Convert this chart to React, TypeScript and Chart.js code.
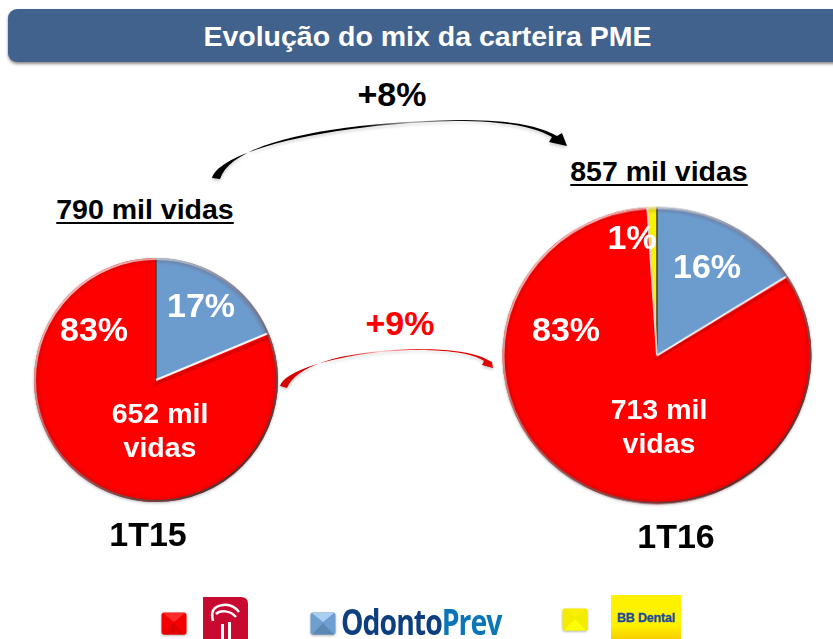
import React, { useEffect, useRef } from "react";
import { Chart, registerables } from "chart.js";

Chart.register(...registerables);

const categories = ["OdontoPrev", "Bradesco", "BB Dental"];
const slices1T15 = [18.7, 81.3, 0];
const slices1T16 = [16, 83, 1];
const sliceColors = ["#6c9ccd", "#ff0000", "#f6f200"];
const titleText = "Evolução do mix da carteira PME";
const growthTotal = "+8%";
const growthBradesco = "+9%";
const total1T15 = "790 mil vidas";
const total1T16 = "857 mil vidas";
const labels1T15 = ["17%", "83%"];
const labels1T16 = ["16%", "1%", "83%"];
const bradesco1T15 = ["652 mil", "vidas"];
const bradesco1T16 = ["713 mil", "vidas"];
const periods = ["1T15", "1T16"];

const shade = {
  id: "shade",
  beforeDatasetsDraw(chart: any) {
    const arc = chart.getDatasetMeta(0).data[0];
    const { x, y, outerRadius: r } = arc;
    const c = chart.ctx;
    c.save();
    c.shadowColor = "rgba(0,0,0,0.3)";
    c.shadowBlur = 3;
    c.shadowOffsetX = 0;
    c.shadowOffsetY = 1;
    c.fillStyle = "#fff";
    c.beginPath();
    c.arc(x, y, r, 0, Math.PI * 2);
    c.fill();
    c.restore();
  },
  afterDatasetsDraw(chart: any) {
    const arcs = chart.getDatasetMeta(0).data;
    const { x, y, outerRadius: r } = arcs[0];
    const c = chart.ctx;
    c.save();
    c.beginPath();
    c.arc(x, y, r, 0, Math.PI * 2);
    c.clip();
    const g = c.createRadialGradient(x, y, r - 7, x, y, r);
    g.addColorStop(0, "rgba(120,0,0,0)");
    g.addColorStop(1, "rgba(70,10,10,0.22)");
    c.fillStyle = g;
    c.fillRect(x - r, y - r, 2 * r, 2 * r);
    const a = arcs[0].startAngle;
    c.strokeStyle = "rgba(70,60,60,0.75)";
    c.lineWidth = 2;
    c.beginPath();
    c.moveTo(x, y);
    c.lineTo(x + Math.cos(a) * r, y + Math.sin(a) * r);
    c.stroke();
    const e = arcs[0].endAngle;
    c.strokeStyle = "rgba(190,0,0,0.6)";
    c.lineWidth = 3;
    c.beginPath();
    c.moveTo(x - 3, y + 5);
    c.lineTo(x + Math.cos(e) * r - 1, y + Math.sin(e) * r + 5);
    c.stroke();
    c.strokeStyle = "#f4f2f2";
    c.lineWidth = 2;
    c.beginPath();
    c.moveTo(x, y);
    c.lineTo(x + Math.cos(e) * r, y + Math.sin(e) * r);
    c.stroke();
    if (arcs[2].circumference > 0.001) {
      const b = arcs[2].startAngle;
      c.strokeStyle = "rgba(215,215,205,0.95)";
      c.lineWidth = 2;
      c.beginPath();
      c.moveTo(x, y);
      c.lineTo(x + Math.cos(b) * r, y + Math.sin(b) * r);
      c.stroke();
    }
    const rim = c.createLinearGradient(x - r * 0.6, y - r * 0.8, x + r * 0.7, y + r * 0.7);
    rim.addColorStop(0, "rgba(255,255,255,0.7)");
    rim.addColorStop(0.45, "rgba(150,130,130,0.65)");
    rim.addColorStop(1, "rgba(60,60,60,0.9)");
    c.strokeStyle = rim;
    c.lineWidth = 3;
    c.beginPath();
    c.arc(x, y, r - 0.5, 0, Math.PI * 2);
    c.stroke();
    c.restore();
  },
};

function Pie({ values, left, top, size, radius, cssHeight }: any) {
  const ref = useRef<HTMLCanvasElement>(null);
  useEffect(() => {
    const chart = new Chart(ref.current!, {
      type: "pie",
      data: {
        labels: categories,
        datasets: [{ data: values, backgroundColor: sliceColors, borderWidth: 0 }],
      },
      options: {
        responsive: false,
        animation: false,
        radius,
        layout: { padding: 0 },
        plugins: { legend: { display: false }, tooltip: { enabled: false } },
      },
      plugins: [shade],
    });
    return () => chart.destroy();
  }, []);
  return <canvas ref={ref} width={size} height={size} style={{ position: "absolute", left, top, width: size, height: cssHeight ?? size }} />;
}

function Label({ x, y, size, color = "#000", children, underline }: any) {
  return (
    <div
      style={{
        position: "absolute",
        left: x - 300,
        width: 600,
        top: y - size,
        height: size * 2,
        lineHeight: `${size * 2}px`,
        textAlign: "center",
        fontFamily: "'Liberation Sans', Arial, sans-serif",
        fontWeight: 700,
        fontSize: size,
        color,
        textDecoration: underline ? "underline" : "none",
        textDecorationThickness: underline ? 2 : undefined,
        textUnderlineOffset: underline ? 3 : undefined,
        whiteSpace: "nowrap",
      }}
    >
      {children}
    </div>
  );
}

function Chip({ x, y, light, mid, dark }: any) {
  return (
    <svg width={27} height={26} style={{ position: "absolute", left: x, top: y, filter: "drop-shadow(0 1px 1px rgba(0,0,0,.3))" }}>
      <rect x={0.5} y={0.5} width={25} height={22} rx={2.5} fill={mid} />
      <polygon points="2,1 24,1 13,10" fill={light} />
      <polygon points="2,22.5 24,22.5 13,11" fill={dark} />
    </svg>
  );
}

export default function App() {
  return (
    <div style={{ position: "fixed", left: 0, top: 0, width: 833, height: 639, background: "#fff", overflow: "hidden" }}>
      <div
        style={{
          position: "absolute",
          left: 8,
          top: 9,
          width: 840,
          height: 53,
          borderRadius: 9,
          background: "#41628c",
          boxShadow: "0 2px 3px rgba(0,0,0,.45)",
        }}
      />
      <Label x={427.5} y={36} size={28.5} color="#fff">{titleText}</Label>
      <Label x={392} y={94} size={34}>{growthTotal}</Label>
      <Label x={145} y={209} size={28.5} underline>{total1T15}</Label>
      <Label x={659} y={171} size={28.5} underline>{total1T16}</Label>
      <Label x={400} y={323} size={34} color="#ff0000">{growthBradesco}</Label>

      <Pie values={slices1T15} left={6} top={230} size={300} radius={122} />
      <Pie values={slices1T16} left={467} top={173} size={380} radius={154.5} cssHeight={365} />

      <svg width={833} height={639} style={{ position: "absolute", left: 0, top: 0 }}>
        <defs>
          <linearGradient id="blk" x1="215" x2="566" y1="0" y2="0" gradientUnits="userSpaceOnUse">
            <stop offset="0" stopColor="#000" />
            <stop offset="0.42" stopColor="#000" />
            <stop offset="0.56" stopColor="#aaa" />
            <stop offset="0.72" stopColor="#000" />
          </linearGradient>
          <linearGradient id="red" x1="280" x2="493" y1="0" y2="0" gradientUnits="userSpaceOnUse">
            <stop offset="0" stopColor="#d40000" />
            <stop offset="0.3" stopColor="#d40000" />
            <stop offset="0.48" stopColor="#ffc8c8" />
            <stop offset="0.7" stopColor="#e00000" />
          </linearGradient>
          <filter id="sh" x="-10%" y="-30%" width="120%" height="170%">
            <feDropShadow dx="0" dy="2" stdDeviation="1.5" floodColor="#000" floodOpacity="0.2" />
          </filter>
        </defs>
        <path
          d="M212 178 C220 150 330 124 455 121 C505 121 535 127 552 137 L549 142 L567 146 L562 133 L557 136 C535 124 505 120 455 120 C330 123 232 142 220 179 Z"
          fill="url(#blk)"
          filter="url(#sh)"
        />
        <path
          d="M280 386 C284 372 330 354 410 350 C450 350 472 353 484 361 L482 365 L493 368 L492 362 L488 360 C474 352 450 349 410 349 C335 352 296 367 287 388 Z"
          fill="url(#red)"
          filter="url(#sh)"
        />
      </svg>

      <Label x={201} y={305} size={34} color="#fff">{labels1T15[0]}</Label>
      <Label x={94} y={329} size={34} color="#fff">{labels1T15[1]}</Label>
      <Label x={160} y={413} size={28.5} color="#fff">{bradesco1T15[0]}</Label>
      <Label x={160} y={447} size={28.5} color="#fff">{bradesco1T15[1]}</Label>
      <Label x={707} y={266} size={34} color="#fff">{labels1T16[0]}</Label>
      <Label x={632} y={237} size={34} color="#fff">{labels1T16[1]}</Label>
      <Label x={566} y={329} size={34} color="#fff">{labels1T16[2]}</Label>
      <Label x={659} y={409} size={28.5} color="#fff">{bradesco1T16[0]}</Label>
      <Label x={659} y={443} size={28.5} color="#fff">{bradesco1T16[1]}</Label>
      <Label x={148} y={534} size={34}>{periods[0]}</Label>
      <Label x={676} y={536} size={34}>{periods[1]}</Label>

      <Chip x={161} y={612} light="#ff2a2a" mid="#f40000" dark="#e00000" />
      <svg width={46} height={43} style={{ position: "absolute", left: 203, top: 597 }}>
        <path d="M0 0 H38 Q45 0 45 7 V43 H0 Z" fill="#c90a30" />
        <path d="M10 24 C7 13 12 9 20 8 C27 7 32 10 36 15" fill="none" stroke="#fff" strokeWidth="2.5" />
        <path d="M13 17 C17 13 27 13 33 20" fill="none" stroke="#fff" strokeWidth="2.5" />
        <rect x="18" y="27" width="3" height="16" fill="#fff" />
        <rect x="25" y="25" width="3" height="18" fill="#fff" />
      </svg>
      <Chip x={310} y={612} light="#a9d0f0" mid="#6f9fd0" dark="#5d88b4" />
      <div style={{ position: "absolute", left: 341, top: 604, height: 36, lineHeight: "36px", fontFamily: "'Open Sans', sans-serif", fontWeight: 700, fontSize: 35, letterSpacing: -1.2, whiteSpace: "nowrap", transform: "scaleX(0.81)", transformOrigin: "left" }}>
        <span style={{ color: "#0d3f80" }}>Odonto</span>
        <span style={{ color: "#0a76b8" }}>Prev</span>
      </div>
      <Chip x={562} y={608} light="#f8ee00" mid="#f4ec00" dark="#ffff00" />
      <div
        style={{
          position: "absolute",
          left: 611,
          top: 595,
          width: 70,
          height: 44,
          lineHeight: "46px",
          textAlign: "center",
          background: "linear-gradient(#fff200 0%, #fff200 68%, #f8cf00 100%)",
          color: "#1a4a9c",
          fontFamily: "'Liberation Sans', Arial, sans-serif",
          fontWeight: 700,
          fontSize: 12.5,
          letterSpacing: -0.2,
          WebkitTextStroke: "0.3px #1a4a9c",
        }}
      >
        BB Dental
      </div>
    </div>
  );
}
